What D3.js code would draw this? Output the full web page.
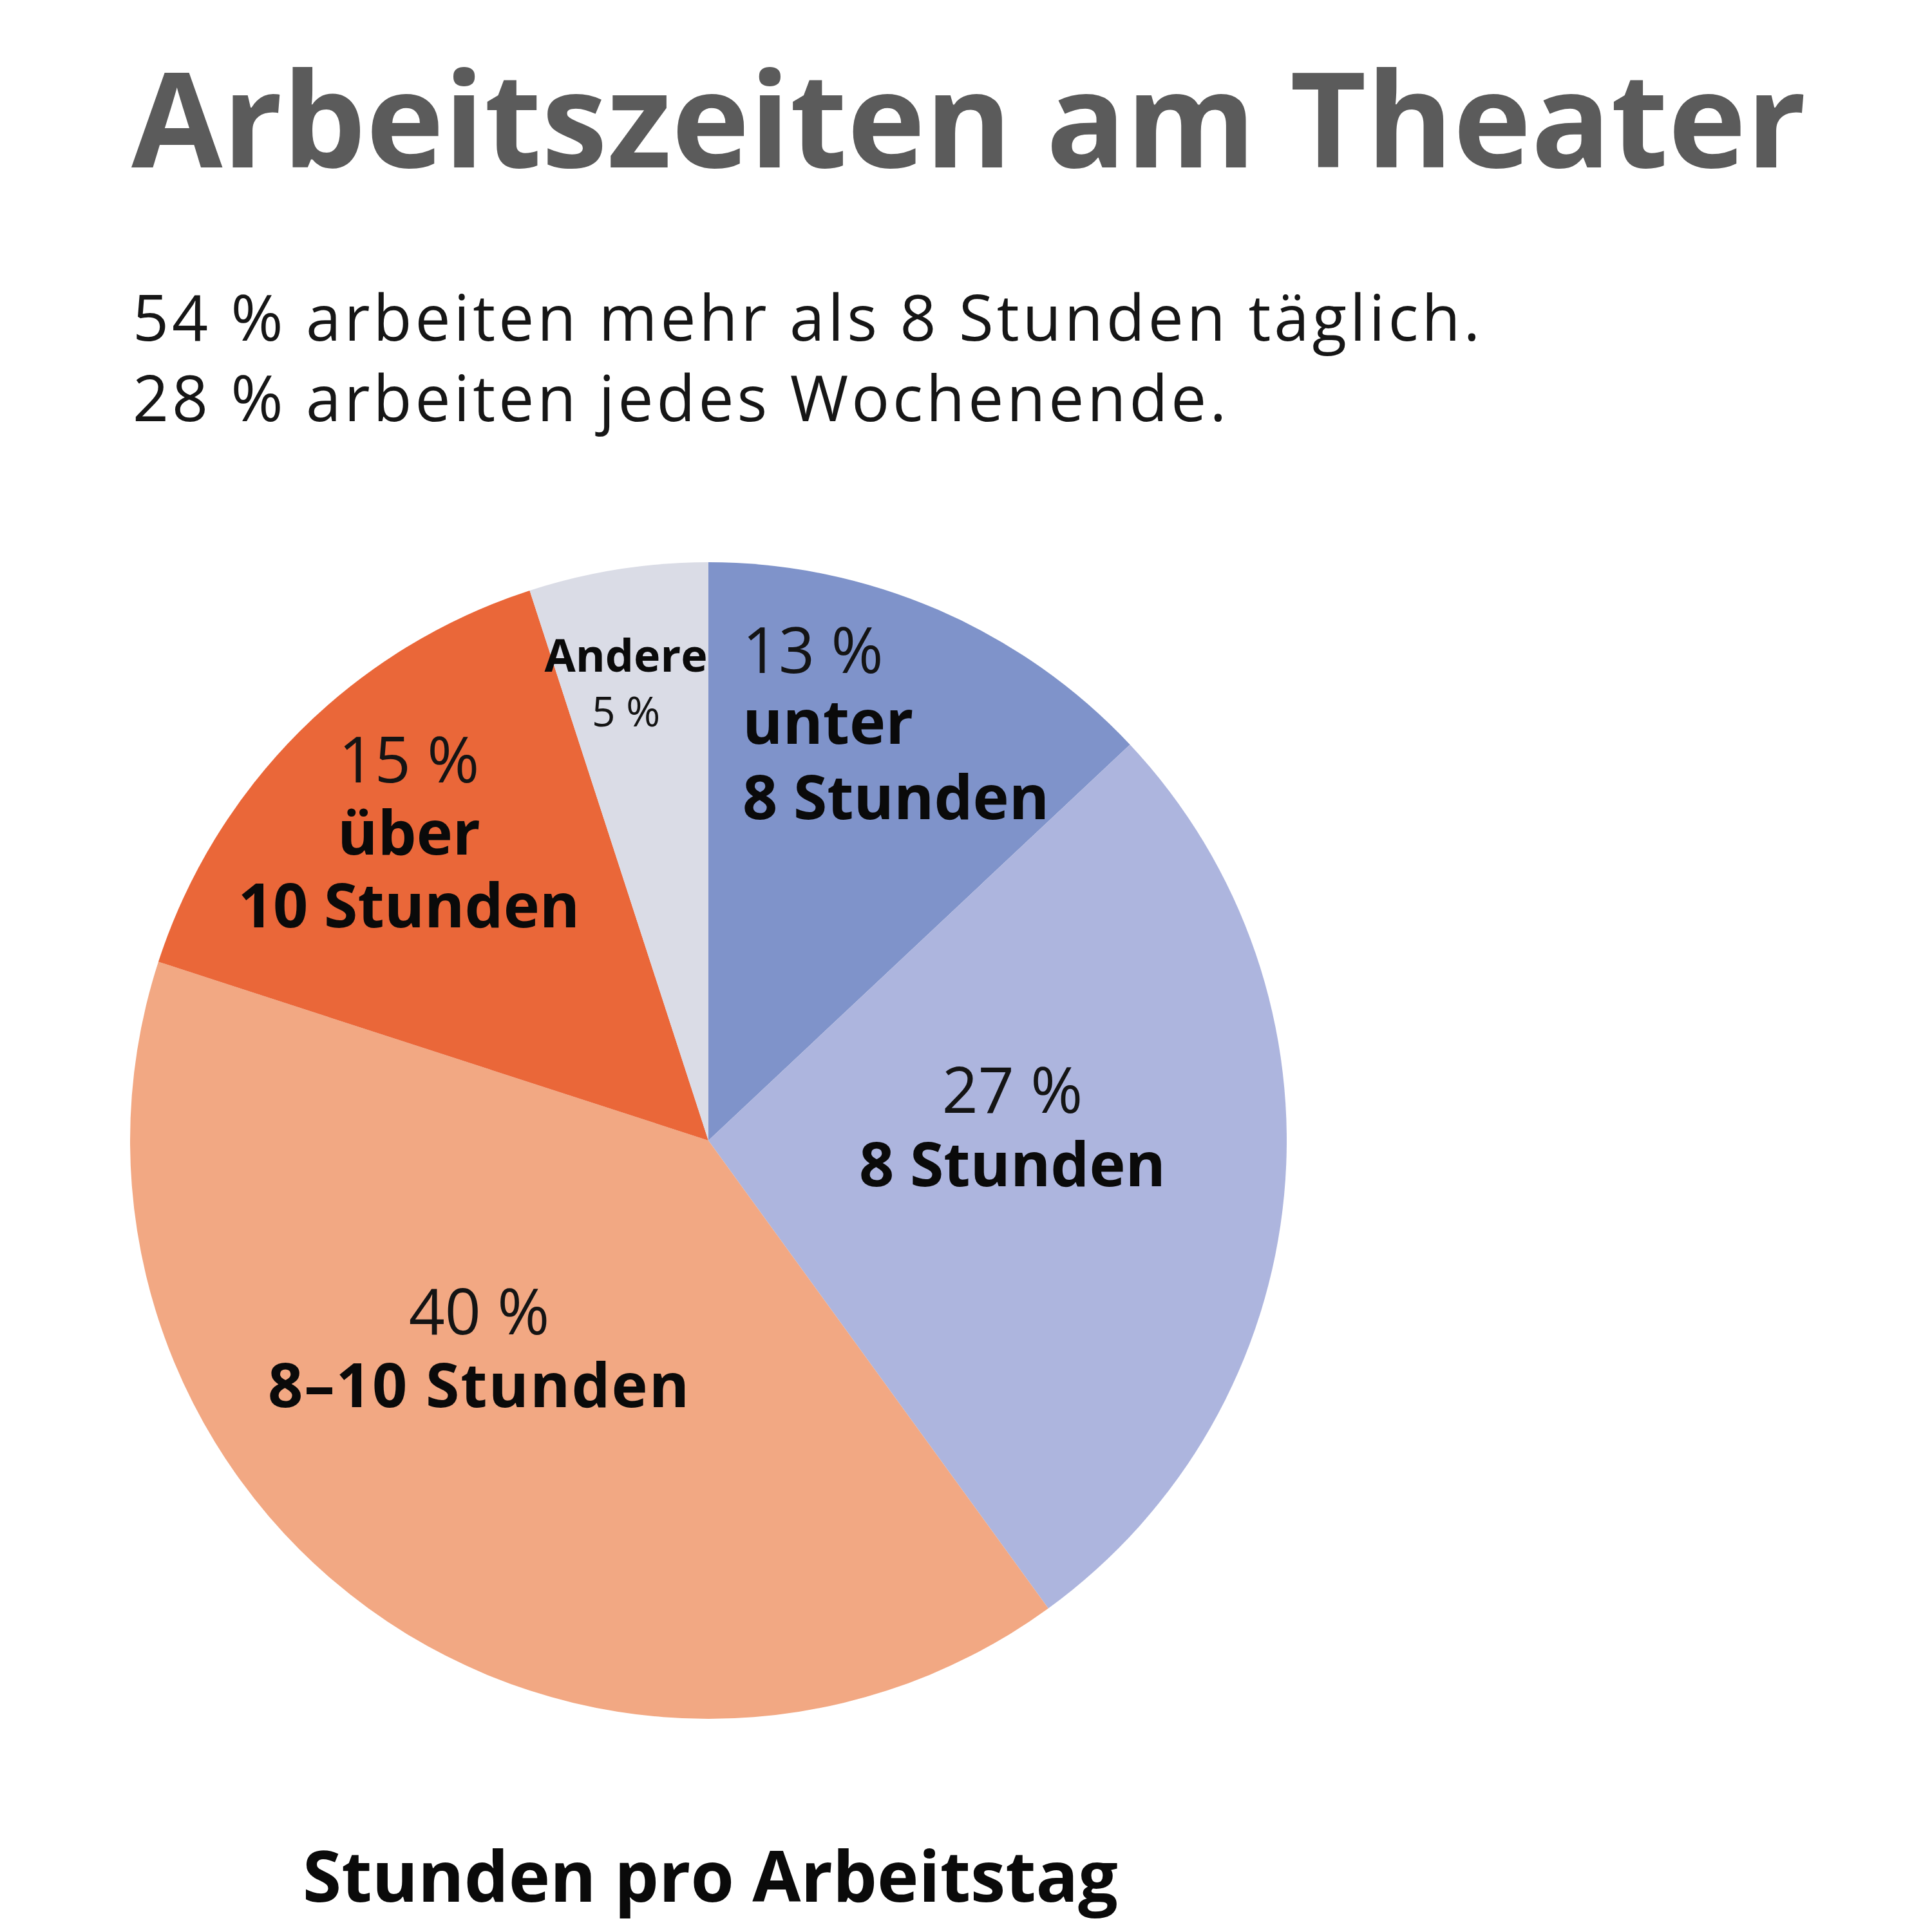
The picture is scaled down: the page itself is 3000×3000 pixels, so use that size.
<!DOCTYPE html>
<html lang="de">
<head>
  <meta charset="UTF-8">
  <title>Arbeitszeiten am Theater</title>
  <style>
    body {
      margin: 0;
      background-color: #fff;
    }
    svg text {
      font-family: "Open Sans", "Noto Sans", sans-serif;
    }
    .title {
      font-size: 205px;
      font-weight: bold;
      fill: #5b5b5b;
    }
    .subtitle {
      font-size: 98px;
      letter-spacing: 5px;
      fill: #161616;
    }
    .pct {
      font-size: 98px;
      fill: #141414;
    }
    .name {
      font-size: 95px;
      font-weight: bold;
      fill: #0a0a0a;
    }
    .small-name {
      font-size: 70px;
      font-weight: bold;
      fill: #0a0a0a;
    }
    .small-pct {
      font-size: 64px;
      fill: #141414;
    }
    .caption {
      font-size: 109px;
      font-weight: bold;
      fill: #0a0a0a;
    }
  </style>
</head>
<body>
  <div id="chart"></div>

  <script src="https://d3js.org/d3.v7.min.js"></script>
  <script>
    // data, clockwise from 12 o'clock
    const categories = ["unter 8 Stunden", "8 Stunden", "8–10 Stunden", "über 10 Stunden", "Andere"];
    const shares = [13, 27, 40, 15, 5];
    const labelLines = [
      ["13 %", "unter", "8 Stunden"],
      ["27 %", "8 Stunden"],
      ["40 %", "8–10 Stunden"],
      ["15 %", "über", "10 Stunden"],
      ["Andere", "5 %"]
    ];
    const sliceColors = ["#7f93ca", "#adb5de", "#f2a883", "#ea6739", "#dadce6"];

    const titleText = "Arbeitszeiten am Theater";
    const subtitleLines = [
      "54 % arbeiten mehr als 8 Stunden täglich.",
      "28 % arbeiten jedes Wochenende."
    ];
    const captionText = "Stunden pro Arbeitstag";

    const width = 3000;
    const height = 3000;
    const cx = 1100, cy = 1771, radius = 898;

    // label placement relative to pie centre (layout only)
    const labelLayout = [
      { dx: 53,   dy: -726, step: [0, 110, 227], anchor: "start",  cls: ["pct", "name", "name"], ls: 0 },
      { dx: 472,  dy: -43,  step: [0, 114],      anchor: "middle", cls: ["pct", "name"], ls: 0 },
      { dx: -356, dy: 301,  step: [0, 113],      anchor: "middle", cls: ["pct", "name"], ls: 2 },
      { dx: -465, dy: -556, step: [0, 112, 225], anchor: "middle", cls: ["pct", "name", "name"], ls: 0 },
      { dx: -128, dy: -728, step: [0, 85],       anchor: "middle", cls: ["small-name", "small-pct"], ls: 0 }
    ];

    const svg = d3.select("#chart")
      .append("svg")
      .attr("width", width)
      .attr("height", height);

    svg.append("text")
      .attr("class", "title")
      .attr("x", 204)
      .attr("y", 260)
      .text(titleText);

    svg.append("g")
      .selectAll("text")
      .data(subtitleLines)
      .enter()
      .append("text")
      .attr("class", "subtitle")
      .attr("x", 206)
      .attr("y", (d, i) => 529 + i * 125)
      .text(d => d);

    const pie = d3.pie().sort(null).value(d => d);
    const arc = d3.arc().innerRadius(0).outerRadius(radius);
    const color = d3.scaleOrdinal().domain(categories).range(sliceColors);

    const slices = pie(shares);

    const g = svg.append("g")
      .attr("transform", `translate(${cx},${cy})`);

    g.selectAll("path")
      .data(slices)
      .enter()
      .append("path")
      .attr("d", arc)
      .attr("fill", (d, i) => color(categories[i]));

    const labels = g.selectAll("g.label")
      .data(slices)
      .enter()
      .append("g")
      .attr("class", "label")
      .attr("transform", (d, i) => `translate(${labelLayout[i].dx},${labelLayout[i].dy})`);

    labels.each(function(d, i) {
      const lay = labelLayout[i];
      d3.select(this).selectAll("text")
        .data(labelLines[i])
        .enter()
        .append("text")
        .attr("class", (t, j) => lay.cls[j])
        .attr("text-anchor", lay.anchor)
        .attr("y", (t, j) => lay.step[j])
        .style("letter-spacing", (t, j) => j > 0 ? lay.ls + "px" : null)
        .text(t => t);
    });

    svg.append("text")
      .attr("class", "caption")
      .attr("x", 1103)
      .attr("y", 2953)
      .attr("text-anchor", "middle")
      .text(captionText);
  </script>
</body>
</html>
